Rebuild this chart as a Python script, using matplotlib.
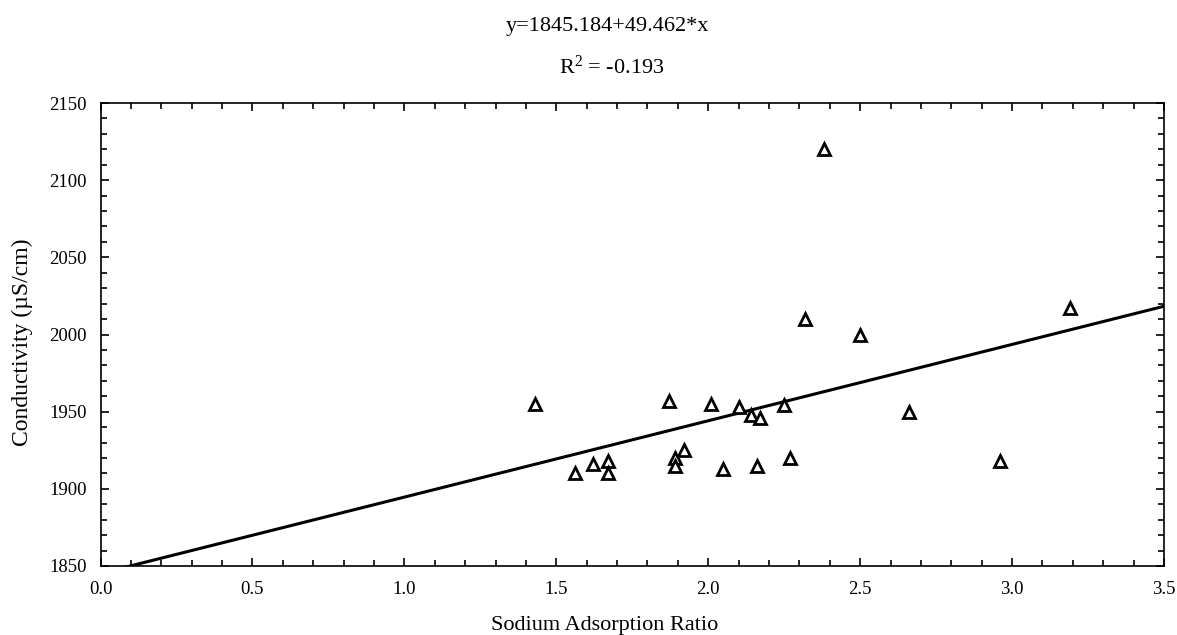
import matplotlib
matplotlib.use("Agg")
import matplotlib.pyplot as plt
import numpy as np
from matplotlib.ticker import MultipleLocator

plt.rcParams['font.family'] = ['Liberation Serif', 'DejaVu Serif']
plt.rcParams['mathtext.fontset'] = 'custom'
plt.rcParams['mathtext.rm'] = 'Liberation Serif'

sar = [1.43, 1.56, 1.62, 1.67, 1.67, 1.87, 1.89, 1.89, 1.92, 2.01, 2.05, 2.10,
       2.14, 2.16, 2.17, 2.25, 2.27, 2.32, 2.38, 2.50, 2.66, 2.96, 3.19]
conductivity = [1955, 1910, 1916, 1918, 1910, 1957, 1920, 1915, 1925, 1955, 1913, 1953,
                1948, 1915, 1946, 1954, 1920, 2010, 2120, 2000, 1950, 1918, 2017]
intercept = 1845.184
slope = 49.462
x_ticks = [0.0, 0.5, 1.0, 1.5, 2.0, 2.5, 3.0, 3.5]
y_ticks = [1850, 1900, 1950, 2000, 2050, 2100, 2150]

W, H = 1177, 635
fig = plt.figure(figsize=(W / 100, H / 100), dpi=100)
ax = fig.add_axes([100.5 / W, 1 - 566 / H, (1164 - 100.5) / W, (566 - 103) / H])

xl = np.array([0.0, 3.5])
ax.plot(xl, intercept + slope * xl, color='black', lw=2.2, zorder=2)
ax.plot(sar, conductivity, linestyle='none', marker='^', markersize=8.5,
        markerfacecolor='white', markeredgecolor='black', markeredgewidth=2, zorder=3)

ax.set_xlim(0.0, 3.5)
ax.set_ylim(1850, 2150)
ax.set_xticks(x_ticks)
ax.set_xticklabels([f"{v:.1f}" for v in x_ticks])
ax.set_yticks(y_ticks)
ax.xaxis.set_minor_locator(MultipleLocator(0.1))
ax.yaxis.set_minor_locator(MultipleLocator(10))
ax.tick_params(which='both', direction='in', top=True, right=True, labelsize=13.5, width=1.2)
ax.tick_params(which='major', length=6)
ax.tick_params(axis='x', which='major', pad=11)
ax.tick_params(axis='y', which='major', pad=10)
ax.tick_params(which='minor', length=4)
for s in ax.spines.values():
    s.set_linewidth(1.2)

fig.text(605 / W, 1 - 630 / H, "Sodium Adsorption Ratio", fontsize=16,
         ha='center', va='baseline')
fig.text(22 / W, 1 - 342 / H, "Conductivity (µS/cm)", fontsize=17,
         ha='center', va='center', rotation=90)
fig.text(607.5 / W, 1 - 31 / H, "y=1845.184+49.462*x", fontsize=16,
         ha='center', va='baseline')
fig.text(612 / W, 1 - 74 / H, "$\\mathregular{R^2}$ = -0.193", fontsize=16,
         ha='center', va='baseline')

fig.savefig("out.png", dpi=100)
